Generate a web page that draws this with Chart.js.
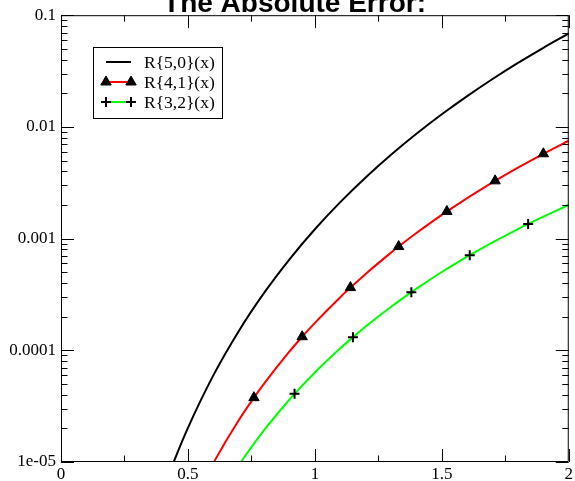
<!DOCTYPE html>
<html><head><meta charset="utf-8">
<script src="https://cdn.jsdelivr.net/npm/chart.js@4/dist/chart.umd.min.js"></script>
<style>html,body{margin:0;padding:0;background:#fff;overflow:hidden}#wrap{width:575px;height:481px;position:relative}</style>
</head><body><div id="wrap"><canvas id="c" width="575" height="481"></canvas></div>
<script>
// ---------- data ----------
const titleText = 'The Absolute Error:';
const seriesNames = ['R{5,0}(x)', 'R{4,1}(x)', 'R{3,2}(x)'];
const xTickValues = [0, 0.5, 1, 1.5, 2];
const xTickLabels = ['0', '0.5', '1', '1.5', '2'];
const xMinorTicks = [0.25, 0.75, 1.25, 1.75];
const yTickValues = [1e-5, 1e-4, 1e-3, 1e-2, 1e-1];
const yTickLabels = ['1e-05', '0.0001', '0.001', '0.01', '0.1'];

const xBlack = [0.4, 0.45, 0.5, 0.6, 0.7, 0.8, 0.9, 1.0, 1.1, 1.2, 1.3, 1.4, 1.5, 1.6, 1.7, 1.8, 1.9, 2.0];
const yBlack = [5.379e-6, 1.0831e-5, 2.0243e-5, 5.9636e-5, 1.48389e-4, 3.26297e-4, 6.5291e-4, 1.21278e-3, 2.12118e-3, 3.53021e-3, 5.63539e-3, 8.6823e-3, 1.2974e-2, 1.8878e-2, 2.6834e-2, 3.7363e-2, 5.1074e-2, 6.8668e-2];

const xRed = [0.5, 0.55, 0.6, 0.7, 0.76, 0.8, 0.9, 0.95, 1.0, 1.1, 1.14, 1.2, 1.3, 1.33, 1.4, 1.5, 1.52, 1.6, 1.7, 1.71, 1.8, 1.9, 2.0];
const yRed = [3.4312e-6, 5.9423e-6, 9.7925e-6, 2.36144e-5, 3.76656e-5, 5.03463e-5, 9.7713e-5, 1.32269e-4, 1.76114e-4, 2.98998e-4, 3.64258e-4, 4.83207e-4, 7.49291e-4, 8.48641e-4, 1.121786e-3, 1.6294e-3, 1.75008e-3, 2.3055e-3, 3.1878e-3, 3.2889e-3, 4.3187e-3, 5.74595e-3, 7.5218e-3];

const xGreen = [0.6, 0.65, 0.7, 0.75, 0.8, 0.9, 0.92, 1.0, 1.1, 1.15, 1.2, 1.3, 1.38, 1.4, 1.5, 1.6, 1.61, 1.7, 1.8, 1.84, 1.9, 2.0];
const yGreen = [4.0049e-6, 6.2283e-6, 9.3488e-6, 1.36115e-5, 1.92994e-5, 3.62789e-5, 4.07763e-5, 6.33493e-5, 1.04228e-4, 1.3119e-4, 1.63284e-4, 2.4553e-4, 3.317e-4, 3.5649e-4, 5.0242e-4, 6.899e-4, 7.112e-4, 9.2594e-4, 1.2181e-3, 1.3524e-3, 1.57413e-3, 2.002e-3];

const xRedMarkers = [0.76, 0.95, 1.14, 1.33, 1.52, 1.71, 1.90];
const yRedMarkers = [3.76656e-5, 1.32269e-4, 3.64258e-4, 8.48641e-4, 1.75008e-3, 3.2889e-3, 5.74595e-3];
const xGreenMarkers = [0.92, 1.15, 1.38, 1.61, 1.84];
const yGreenMarkers = [4.07763e-5, 1.3119e-4, 3.317e-4, 7.112e-4, 1.3524e-3];

// ---------- helpers ----------
const pts = (xs, ys) => xs.map((x, i) => ({ x: x, y: ys[i] }));
const SERIF = '"Liberation Serif", "DejaVu Serif", serif';
const SANS = '"Liberation Sans", Arial, sans-serif';

const triStyle = { pointStyle: 'triangle', radius: 6, rotation: 0, borderWidth: 1 };
const plusStyle = { pointStyle: 'cross', radius: 5, rotation: 0, borderWidth: 2 };

const framePlugin = {
  id: 'frame',
  afterDraw(chart) {
    const { ctx, chartArea: a, scales } = chart;
    const xs = scales.x, ys = scales.y;
    ctx.save();
    ctx.strokeStyle = '#000';
    ctx.lineWidth = 1;
    ctx.beginPath();
    ctx.rect(a.left + 0.5, a.top + 0.5, a.right - a.left - 1, a.bottom - a.top - 1);
    ctx.stroke();
    const major = 13, minor = 6.5;
    ctx.beginPath();
    const xt = (v, len) => {
      const px = Math.round(xs.getPixelForValue(v)) + 0.5;
      ctx.moveTo(px, a.bottom); ctx.lineTo(px, a.bottom - len);
      ctx.moveTo(px, a.top); ctx.lineTo(px, a.top + len);
    };
    const yt = (v, len) => {
      const py = Math.round(ys.getPixelForValue(v)) + 0.5;
      ctx.moveTo(a.left, py); ctx.lineTo(a.left + len, py);
      ctx.moveTo(a.right, py); ctx.lineTo(a.right - len, py);
    };
    xTickValues.forEach(v => xt(v, major));
    xMinorTicks.forEach(v => xt(v, minor));
    yTickValues.forEach(v => yt(v, major));
    for (let d = 0; d < yTickValues.length - 1; d++) {
      for (let k = 2; k <= 9; k++) yt(yTickValues[d] * k, minor);
    }
    ctx.stroke();

    // title
    ctx.fillStyle = '#000';
    ctx.font = 'bold 28px ' + SANS;
    ctx.textAlign = 'center';
    ctx.textBaseline = 'alphabetic';
    ctx.fillText(titleText, 294.5, 12);

    // legend
    const bx = 93.5, by = 47.5, bw = 129, bh = 71;
    ctx.fillStyle = '#fff';
    ctx.fillRect(bx, by, bw, bh);
    ctx.strokeStyle = '#000';
    ctx.lineWidth = 1;
    ctx.strokeRect(bx, by, bw, bh);
    const rows = [62, 82, 102];
    const colors = ['#000000', '#ff0000', '#00ff00'];
    const marks = [null, triStyle, plusStyle];
    const x0 = 106, x1 = 131;
    rows.forEach((ry, i) => {
      ctx.strokeStyle = colors[i];
      ctx.lineWidth = 2;
      ctx.beginPath();
      ctx.moveTo(x0, ry); ctx.lineTo(x1, ry);
      ctx.stroke();
      if (marks[i]) {
        ctx.fillStyle = '#000'; ctx.strokeStyle = '#000';
        ctx.lineWidth = marks[i].borderWidth;
        Chart.helpers.drawPoint(ctx, marks[i], x0, ry);
        Chart.helpers.drawPoint(ctx, marks[i], x1, ry);
      }
      ctx.fillStyle = '#000';
      ctx.font = '17.5px ' + SERIF;
      ctx.textAlign = 'left';
      ctx.textBaseline = 'middle';
      ctx.fillText(seriesNames[i], 144, ry + 1);
    });
    ctx.restore();
  }
};

new Chart(document.getElementById('c'), {
  type: 'scatter',
  data: {
    datasets: [
      { label: seriesNames[1] + ' markers', data: pts(xRedMarkers, yRedMarkers), showLine: false,
        pointStyle: 'triangle', pointRadius: 6, pointBackgroundColor: '#000', pointBorderColor: '#000', pointBorderWidth: 1, order: 0 },
      { label: seriesNames[2] + ' markers', data: pts(xGreenMarkers, yGreenMarkers), showLine: false,
        pointStyle: 'cross', pointRadius: 5, pointBorderColor: '#000', pointBorderWidth: 2, order: 0 },
      { label: seriesNames[0], data: pts(xBlack, yBlack), showLine: true, borderColor: '#000', borderWidth: 2,
        pointRadius: 0, cubicInterpolationMode: 'monotone', order: 1 },
      { label: seriesNames[1], data: pts(xRed, yRed), showLine: true, borderColor: '#ff0000', borderWidth: 2,
        pointRadius: 0, cubicInterpolationMode: 'monotone', order: 1 },
      { label: seriesNames[2], data: pts(xGreen, yGreen), showLine: true, borderColor: '#00ff00', borderWidth: 2,
        pointRadius: 0, cubicInterpolationMode: 'monotone', order: 1 }
    ]
  },
  options: {
    responsive: false,
    animation: false,
    devicePixelRatio: 1,
    layout: { padding: { left: 0, top: 15, right: 3, bottom: 0 }, autoPadding: false },
    plugins: { legend: { display: false }, tooltip: { enabled: false }, title: { display: false } },
    scales: {
      x: {
        type: 'linear', min: 0, max: 2,
        grid: { display: false, drawTicks: false },
        border: { display: false },
        afterBuildTicks: s => { s.ticks = xTickValues.map(v => ({ value: v })); },
        afterFit: s => { s.height = 19; },
        ticks: { color: '#000', font: { family: SERIF, size: 17 }, padding: 2, maxRotation: 0, autoSkip: false,
          callback: (v, i) => xTickLabels[i] }
      },
      y: {
        type: 'logarithmic', min: 1e-5, max: 0.1,
        grid: { display: false, drawTicks: false },
        border: { display: false },
        afterBuildTicks: s => { s.ticks = yTickValues.map(v => ({ value: v })); },
        afterFit: s => { s.width = 61; },
        ticks: { color: '#000', font: { family: SERIF, size: 17 }, padding: 5, autoSkip: false,
          callback: (v, i) => yTickLabels[i] }
      }
    }
  },
  plugins: [framePlugin]
});
</script>
</body></html>
